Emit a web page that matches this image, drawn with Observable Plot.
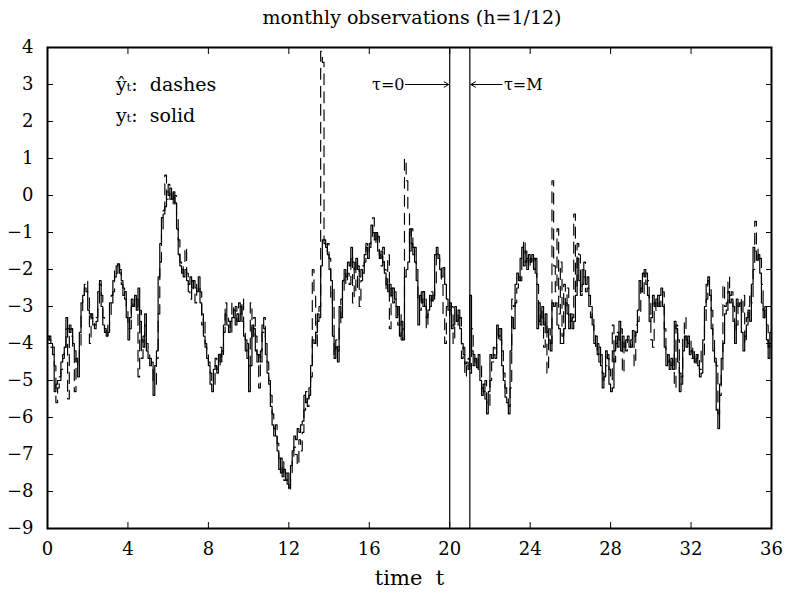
<!DOCTYPE html>
<html><head><meta charset="utf-8">
<script src="https://cdn.jsdelivr.net/npm/d3@7"></script>
<script src="https://cdn.jsdelivr.net/npm/@observablehq/plot@0.6"></script>
<style>
body{margin:0;background:#fff;}
#title{font-family:"DejaVu Serif","DejaVu Sans",serif;font-size:19px;height:34px;line-height:34px;text-align:center;width:786px;padding-left:38px;box-sizing:border-box;color:#000}
</style></head><body>
<div id="title">monthly observations (h=1/12)</div>
<div id="chart"></div>
<script>
const MONTHS_PER_YEAR = 12;
// observed y_t (solid), one value per month, t = 0 .. 36
const yObserved = [
 -3.8,-3.9,-4.0,-4.1,-5.3,-5.1,-5.0,-5.0,-4.5,-4.4,-4.1,-3.3,
 -3.6,-3.7,-3.6,-4.0,-4.2,-4.5,-4.9,-3.7,-2.9,-2.7,-2.5,-2.6,
 -3.1,-3.2,-3.3,-3.5,-3.5,-3.4,-2.6,-2.4,-3.0,-3.5,-3.6,-3.8,
 -3.7,-2.9,-2.9,-2.3,-2.2,-1.9,-1.85,-2.1,-2.3,-2.7,-2.6,-3.3,
 -3.9,-3.3,-2.8,-3.0,-2.7,-3.1,-2.5,-3.4,-3.9,-4.1,-3.2,-4.2,
 -4.4,-4.6,-4.5,-5.4,-4.6,-4.2,-2.2,-1.3,-0.6,-0.5,-0.3,0.1,
 0.0,0.2,-0.1,0.1,-0.2,-0.9,-1.6,-1.9,-2.0,-2.2,-2.0,-2.3,
 -2.4,-2.2,-2.5,-2.3,-2.5,-2.6,-2.2,-2.9,-3.2,-3.8,-4.1,-4.4,
 -4.6,-5.1,-5.3,-4.7,-4.6,-4.7,-4.3,-4.5,-4.2,-3.5,-3.2,-3.5,
 -3.7,-3.4,-3.3,-3.1,-3.5,-3.2,-3.4,-3.0,-3.4,-3.8,-4.2,-4.0,
 -5.3,-4.6,-3.5,-3.6,-4.2,-4.5,-4.3,-4.5,-3.5,-3.6,-4.0,-4.8,
 -5.1,-5.7,-6.2,-6.3,-6.5,-6.9,-7.4,-7.1,-7.6,-7.4,-7.7,-7.5,
 -7.9,-7.3,-6.9,-6.5,-6.6,-6.3,-6.4,-6.2,-6.1,-5.4,-5.6,-5.5,
 -5.2,-4.6,-3.9,-4.0,-3.7,-3.2,-3.3,-1.9,-1.2,-1.3,-1.4,-1.6,
 -2.0,-2.3,-3.8,-4.4,-4.1,-4.5,-3.0,-3.3,-2.3,-2.0,-2.2,-1.8,
 -1.9,-1.4,-1.8,-2.0,-1.7,-2.0,-2.2,-2.0,-2.1,-1.6,-1.4,-1.7,
 -1.3,-0.8,-1.0,-1.2,-1.0,-1.5,-1.7,-1.5,-1.8,-2.1,-2.4,-2.6,
 -2.4,-2.7,-2.5,-2.8,-3.3,-3.0,-3.8,-3.4,-3.9,-2.2,-2.0,-1.8,
 -0.9,-1.3,-1.6,-1.4,-2.3,-3.5,-2.7,-2.9,-2.6,-3.0,-3.3,-3.1,
 -2.7,-2.85,-2.7,-1.6,-1.4,-1.7,-2.0,-2.2,-1.95,-2.4,-2.8,-3.1,
 -2.9,-3.6,-3.5,-3.0,-3.4,-3.1,-3.6,-4.0,-4.3,-4.55,-4.5,-4.7,
 -2.7,-4.2,-4.6,-4.4,-4.65,-4.3,-5.0,-5.4,-5.1,-5.5,-5.9,-5.3,
 -4.3,-4.4,-4.3,-4.4,-3.5,-3.8,-3.6,-4.6,-5.0,-5.45,-5.6,-5.9,
 -4.2,-3.3,-3.6,-2.4,-2.1,-2.3,-1.7,-1.4,-1.9,-1.5,-2.0,-1.6,
 -1.8,-1.6,-2.0,-1.7,-3.6,-2.9,-3.5,-3.0,-3.5,-3.2,-3.7,-3.9,
 -4.2,-2.9,-3.0,-2.9,-3.5,-3.6,-4.0,-4.0,-3.6,-2.9,-3.2,-3.6,
 -3.2,-3.6,-3.4,-2.7,-1.7,-2.3,-2.6,-2.0,-2.2,-2.4,-2.2,-3.0,
 -3.0,-3.5,-4.0,-3.8,-4.3,-4.1,-4.6,-5.2,-4.9,-4.2,-4.4,-5.1,
 -5.3,-5.2,-4.2,-3.8,-4.1,-3.4,-4.2,-3.8,-4.1,-3.9,-3.9,-4.1,
 -3.9,-3.65,-3.8,-3.7,-3.1,-2.3,-2.6,-2.1,-2.2,-2.1,-2.7,-3.4,
 -3.3,-2.7,-3.0,-2.8,-3.0,-2.7,-2.5,-3.0,-4.1,-4.6,-4.3,-4.7,
 -4.4,-4.7,-3.4,-3.6,-4.5,-5.3,-4.9,-4.2,-3.8,-4.1,-3.8,-4.3,
 -4.2,-4.4,-4.5,-4.3,-4.6,-4.9,-4.8,-3.9,-3.0,-2.4,-2.2,-2.7,
 -3.6,-4.2,-4.5,-5.8,-6.3,-5.1,-4.4,-4.0,-3.2,-3.1,-2.6,-2.9,
 -2.8,-3.4,-4.0,-2.8,-3.0,-2.9,-3.7,-4.2,-3.8,-3.5,-3.1,-3.4,
 -2.4,-1.4,-1.5,-1.75,-1.6,-2.1,-2.9,-3.3,-3.0,-3.9,-4.4,-3.7,
 -3.6
];
// predicted ŷ_t (dashes), one value per month
const yPredicted = [
 -3.9,-3.8,-4.1,-4.3,-4.6,-5.6,-5.2,-4.9,-4.7,-4.3,-4.2,-3.6,
 -5.5,-3.5,-3.8,-4.1,-5.3,-4.4,-4.6,-4.1,-3.1,-2.8,-2.4,-2.3,
 -2.7,-4.0,-3.2,-3.4,-3.6,-3.3,-3.0,-2.3,-2.7,-3.3,-3.7,-3.5,
 -3.8,-3.3,-2.7,-2.6,-2.0,-2.1,-1.8,-2.0,-2.4,-2.5,-2.8,-3.0,
 -3.6,-3.6,-3.0,-2.9,-2.9,-2.8,-4.9,-3.1,-4.4,-3.8,-3.5,-4.0,
 -4.3,-4.4,-4.7,-5.0,-5.1,-4.4,-3.2,-1.8,-0.9,-0.4,0.55,-0.1,
 0.3,-0.1,0.1,-0.3,0.0,-0.5,-1.2,-1.8,-2.1,-1.9,-1.4,-2.1,
 -2.6,-2.8,-2.3,-2.6,-2.9,-2.4,-2.5,-2.6,-3.5,-3.3,-4.0,-4.2,
 -4.5,-4.8,-5.0,-5.1,-4.4,-4.8,-4.6,-4.1,-4.4,-3.7,-2.9,-3.3,
 -3.4,-3.7,-2.9,-3.3,-3.0,-3.4,-2.9,-3.2,-2.8,-3.6,-3.9,-4.4,
 -4.6,-2.9,-3.9,-3.3,-3.8,-4.3,-5.2,-4.2,-3.7,-3.3,-4.3,-4.5,
 -5.0,-5.4,-5.9,-6.5,-6.2,-6.7,-7.1,-7.5,-7.2,-7.7,-7.5,-7.8,
 -8.0,-7.6,-7.1,-6.8,-7.0,-7.3,-6.6,-6.9,-6.4,-5.8,-5.3,-5.7,
 -5.4,-4.9,-2.0,-2.6,-4.1,-3.4,-3.0,3.9,3.6,-1.2,-1.5,-1.3,
 -1.7,-2.9,-2.5,-4.3,-3.9,-4.2,-3.5,-2.8,-2.6,-2.1,-2.4,-2.1,
 -2.4,-1.6,-2.9,-1.8,-2.6,-1.9,-3.0,-2.3,-1.9,-1.8,-1.3,-1.5,
 -1.4,-1.1,-0.6,-1.0,-1.3,-1.1,-1.6,-1.9,-1.4,-2.0,-2.6,-1.6,
 -3.6,-2.5,-2.9,-2.6,-3.0,-3.5,-3.2,-3.9,-3.6,1.0,0.4,-0.4,
 -1.5,-0.9,-1.4,-1.8,-2.0,-2.8,-3.1,-2.6,-3.0,-2.8,-3.6,-3.2,
 -3.0,-2.6,-2.9,-2.5,-1.5,-1.6,-1.9,-2.3,-3.2,-4.0,-3.0,-2.9,
 -3.3,-3.0,-4.0,-3.4,-3.1,-3.5,-3.3,-4.4,-4.1,-4.9,-4.6,-4.4,
 -4.8,-3.6,-4.3,-4.5,-4.4,-4.7,-4.6,-5.2,-5.3,-5.0,-5.6,-5.7,
 -5.0,-4.5,-4.1,-4.3,-4.0,-3.6,-3.9,-4.2,-4.8,-5.2,-5.4,-5.7,
 -5.2,-2.8,-3.0,-2.9,-2.5,-2.2,-2.3,-1.6,-1.2,-1.8,-1.7,-1.9,
 -1.7,-1.9,-1.7,-2.1,-2.4,-3.4,-3.1,-3.3,-4.1,-3.4,-4.8,-3.6,
 -4.0,0.4,-1.9,-2.6,-0.9,-3.2,-1.8,-3.8,-2.4,-3.1,-2.5,-3.4,
 -3.4,-3.3,-0.5,-2.6,-1.3,-1.6,-2.7,-2.4,-1.8,-2.6,-2.5,-2.7,
 -3.3,-3.2,-3.7,-4.2,-4.0,-4.5,-4.3,-4.8,-5.0,-4.6,-4.3,-4.7,
 -5.0,-3.5,-4.5,-4.0,-3.7,-3.9,-3.6,-4.8,-3.9,-4.2,-3.8,-4.0,
 -4.1,-3.8,-4.6,-3.5,-3.4,-3.2,-2.5,-2.7,-2.0,-2.4,-2.3,-2.9,
 -3.9,-4.1,-2.9,-3.1,-2.7,-3.0,-2.8,-2.6,-3.6,-4.3,-4.5,-4.4,
 -4.6,-4.3,-5.2,-3.5,-3.9,-4.8,-5.1,-3.8,-3.3,-3.9,-4.0,-3.9,
 -4.4,-4.1,-4.6,-4.4,-4.3,-4.7,-4.2,-4.3,-3.5,-2.8,-2.3,-2.5,
 -3.1,-3.8,-4.4,-4.6,-5.9,-5.4,-4.8,-2.4,-3.0,-2.9,-2.2,-2.7,
 -2.6,-3.0,-3.7,-3.5,-2.9,-2.8,-3.2,-2.7,-4.0,-3.3,-3.0,-2.6,
 -2.9,-2.0,-0.7,-1.4,-1.8,-1.7,-2.4,-3.1,-3.4,-3.5,-4.1,-4.0,
 -3.8
];
const boundaries = [20, 21];           // τ = 0 and τ = M
const xTicks = [0, 4, 8, 12, 16, 20, 24, 28, 32, 36];
const yTicks = [-9, -8, -7, -6, -5, -4, -3, -2, -1, 0, 1, 2, 3, 4];

const rows = yObserved.map((v, i) => ({t: i / MONTHS_PER_YEAR, y: v, yhat: yPredicted[i]}));

const plot = Plot.plot({
  width: 786, height: 558,
  marginTop: 13, marginBottom: 64, marginLeft: 47, marginRight: 15,
  style: {fontFamily: "'DejaVu Serif','DejaVu Sans',serif", fontSize: "18px", color: "#000", background: "#fff"},
  x: {domain: [0, 36]},
  y: {domain: [-9, 4]},
  marks: [
    Plot.lineY(rows, {x: "t", y: "yhat", curve: "step-after", stroke: "#000", strokeWidth: 1.15, strokeDasharray: "11,7"}),
    Plot.lineY(rows, {x: "t", y: "y", curve: "step-after", stroke: "#000", strokeWidth: 1.2}),
    Plot.ruleX(boundaries, {stroke: "#000", strokeWidth: 1.2}),
    Plot.axisX(xTicks, {anchor: "bottom", tickSize: -6, tickPadding: 20, fontSize: 18, label: null}),
    Plot.axisX(xTicks, {anchor: "top", tickSize: -6, tickFormat: () => "", label: null}),
    Plot.axisY(yTicks, {anchor: "left", tickSize: -6, tickPadding: 20, fontSize: 18, label: null}),
    Plot.axisY(yTicks, {anchor: "right", tickSize: -6, tickFormat: () => "", label: null}),
    Plot.frame({stroke: "#000", strokeWidth: 2}),
    Plot.text(["time\u00a0\u00a0t"], {frameAnchor: "bottom", dy: 56, text: d => d, fontSize: 21}),
    Plot.text(["ŷₜ:\u00a0\u00a0dashes"], {x: 3.4, y: 3.0, text: d => d, textAnchor: "start", fontSize: 19}),
    Plot.text(["yₜ:\u00a0\u00a0solid"], {x: 3.4, y: 2.15, text: d => d, textAnchor: "start", fontSize: 19}),
    Plot.text(["τ=0"], {x: 17.75, y: 3.0, text: d => d, textAnchor: "end", fontSize: 16}),
    Plot.text(["τ=M"], {x: 22.7, y: 3.0, text: d => d, textAnchor: "start", fontSize: 16}),
    Plot.arrow([0], {x1: 17.8, x2: 19.95, y1: 3.0, y2: 3.0, stroke: "#000", strokeWidth: 1, headLength: 8}),
    Plot.arrow([0], {x1: 22.6, x2: 21.05, y1: 3.0, y2: 3.0, stroke: "#000", strokeWidth: 1, headLength: 8})
  ]
});
document.getElementById("chart").appendChild(plot);
</script>
</body></html>
